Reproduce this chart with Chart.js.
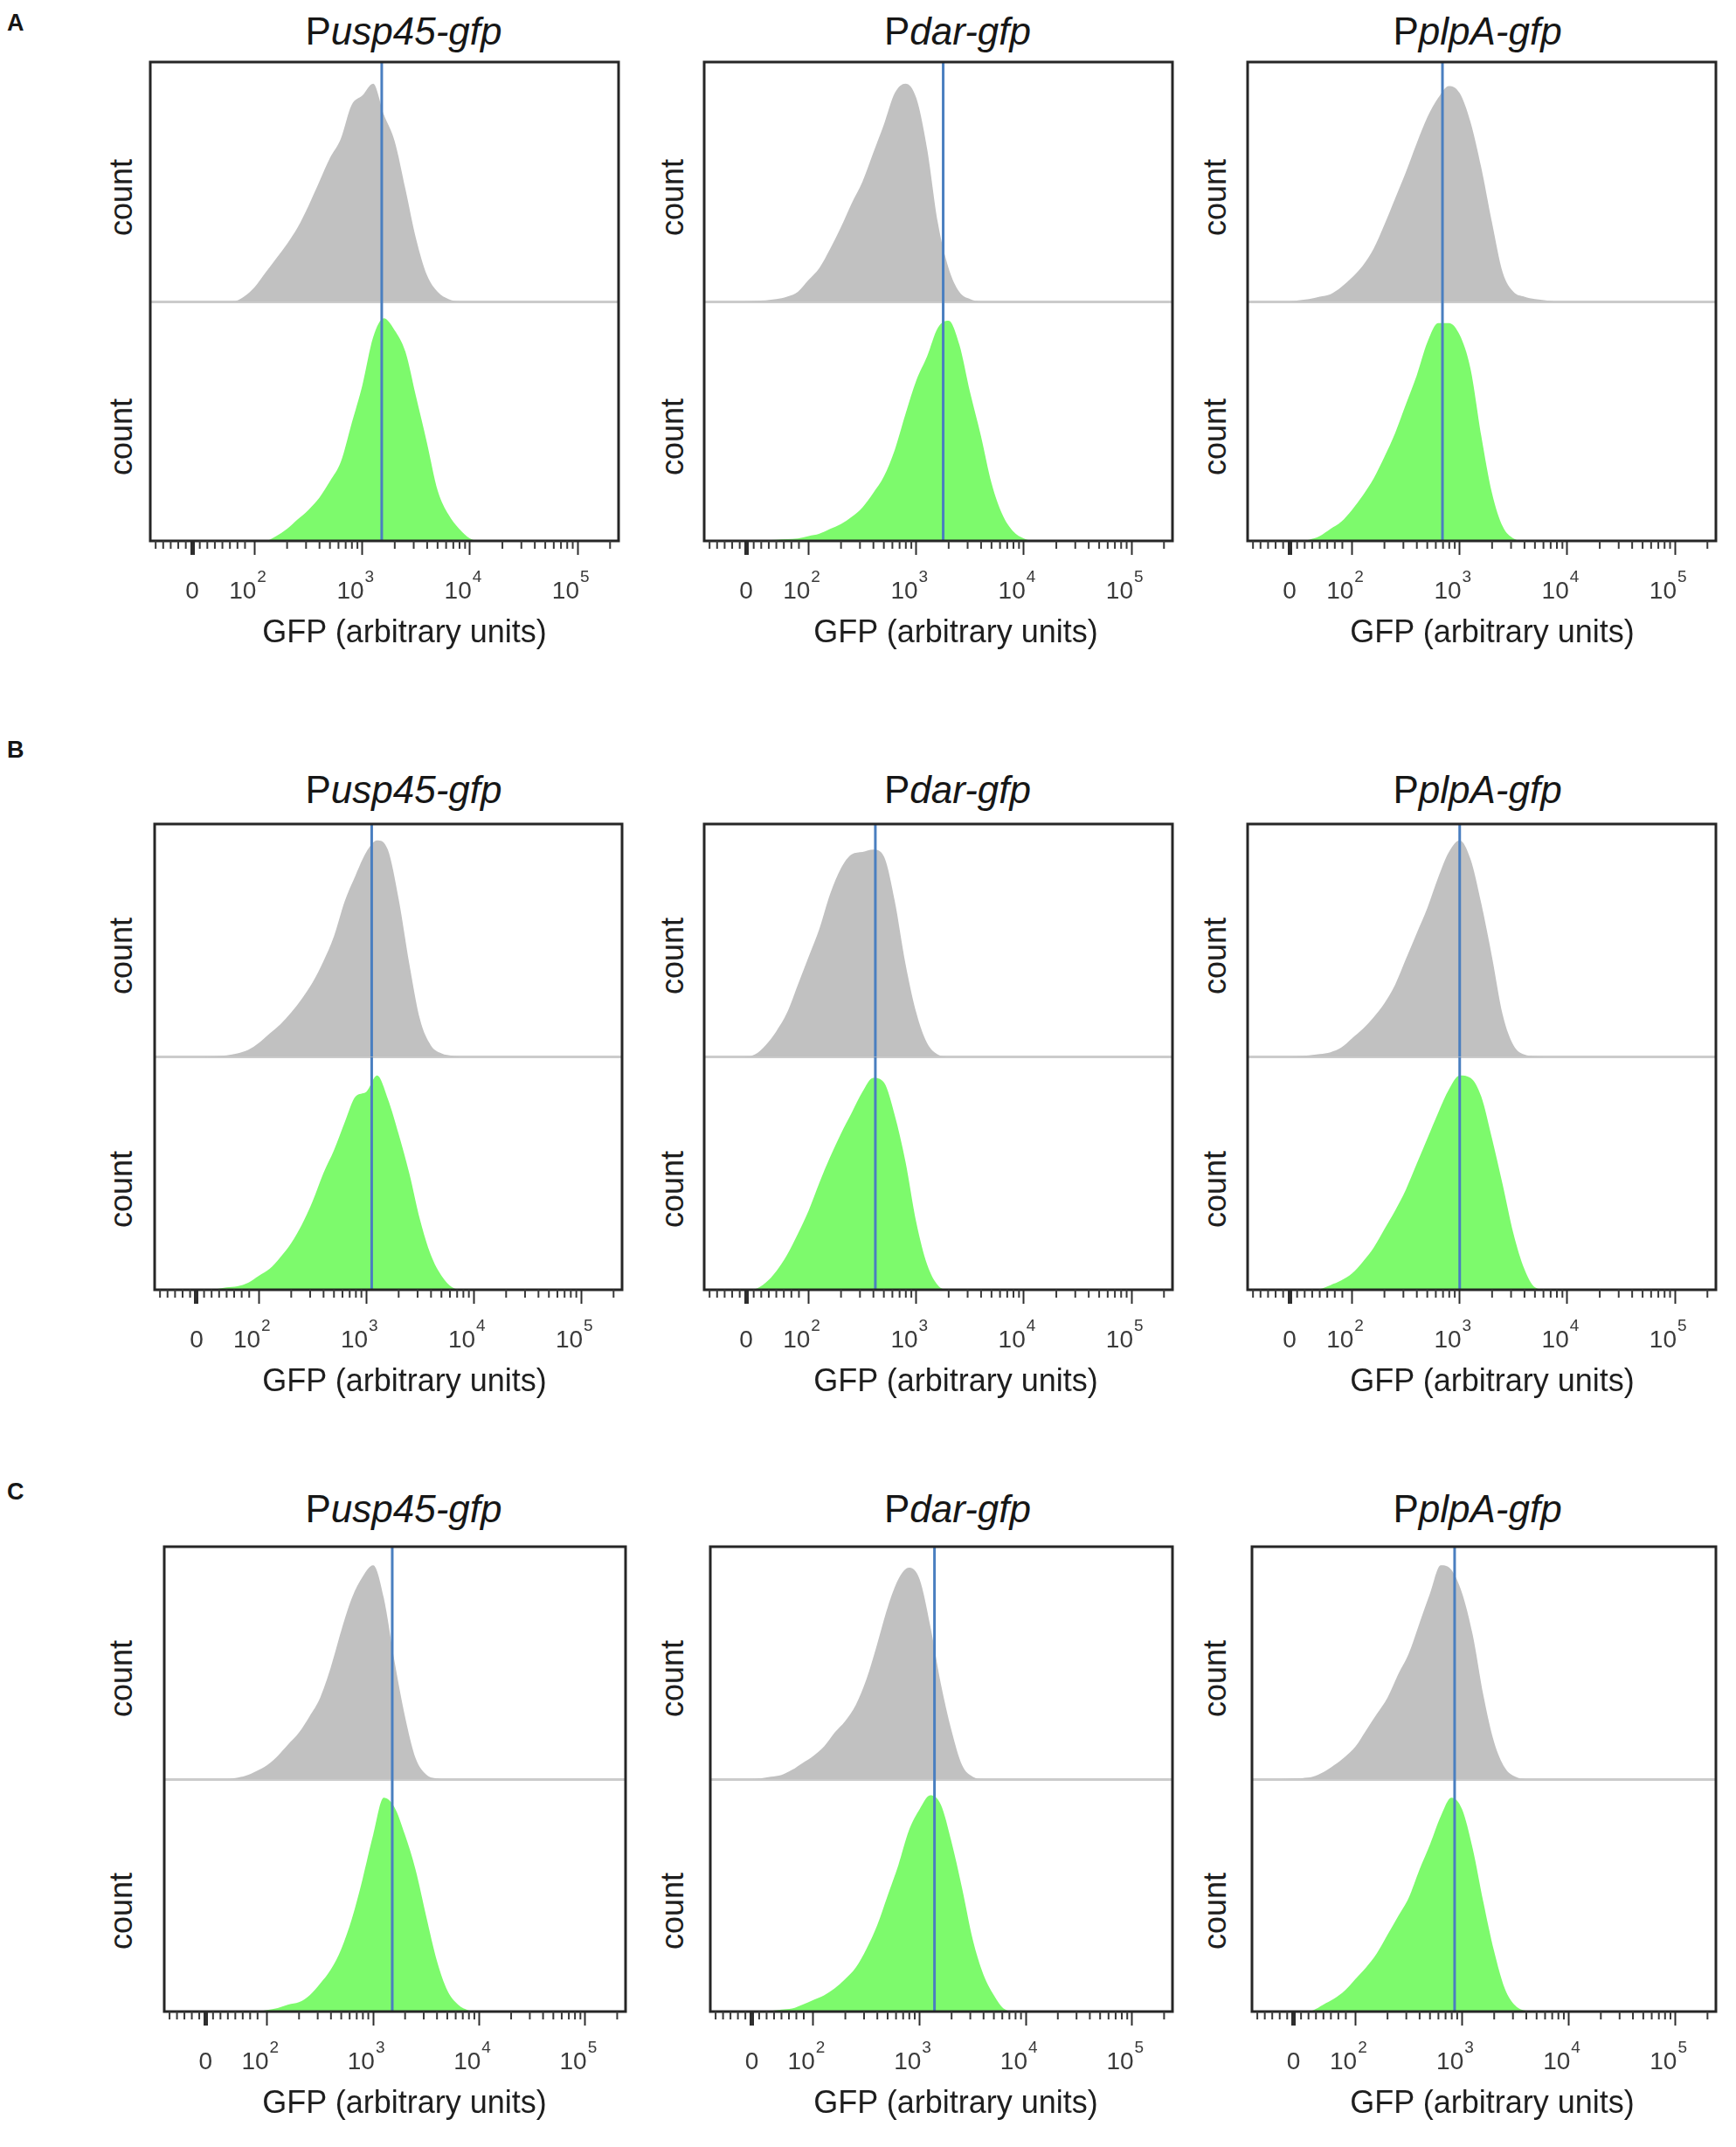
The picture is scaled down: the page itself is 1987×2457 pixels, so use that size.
<!DOCTYPE html>
<html>
<head>
<meta charset="utf-8">
<script src="https://cdn.jsdelivr.net/npm/chart.js@4.4.1/dist/chart.umd.min.js"></script>
<style>
  body { margin: 0; background: #fff; width: 1987px; height: 2457px; position: relative; overflow: hidden;
         font-family: "Liberation Sans", Arial, sans-serif; color: #161616; }
  canvas { position: absolute; }
  .letter { position: absolute; font-weight: bold; font-size: 27px; line-height: 1; transform: translateY(-50%); }
  .title { position: absolute; font-size: 44px; line-height: 1; white-space: nowrap; transform: translate(-50%, -50%); }
  .xlab { position: absolute; font-size: 36px; line-height: 1; white-space: nowrap; transform: translate(-50%, -50%); color: #1e1e1e; }
  .ylab { position: absolute; font-size: 36px; line-height: 1; white-space: nowrap; transform: translate(-50%, -50%) rotate(-90deg); color: #1e1e1e; }
</style>
</head>
<body>
<script>
// x positions of histogram bins, in display decades (10^3 -> 3)
const binCenters = [1.0,1.1,1.2,1.3,1.4,1.5,1.6,1.7,1.8,1.9,2.0,2.1,2.2,2.3,2.4,2.5,2.6,2.7,2.8,2.9,3.0,3.1,3.2,3.3,3.4,3.5,3.6,3.7,3.8,3.9,4.0,4.1,4.2];

// % of mode. gray = upper histogram, green = lower histogram
const grayA1  = [0,0,0,0,0,0,0,0,0,2,6,12,18,24,31,40,50,60,68,82,86,91,78,67,47,26,11,4,1,0,0,0,0];
const greenA1 = [0,0,0,0,0,0,0,0,0,0,0,0,2,5,9,13,18,25,33,49,65,85,93,88,79,60,41,21,11,5,1,0,0];
const grayA2  = [0,0,0,0,0,0.3,0.5,1,2,4,9,14,22,31,41,50,62,74,87,91,85,64,33,14,4,1,0,0,0,0,0,0,0];
const greenA2 = [0,0,0,0,0,0,0.3,0.5,0.7,1,2,3,5,7,10,14,20,27,38,53,67,77,89,92,82,62,44,24,11,4,1,0,0];
const grayA3  = [0,0,0,0,0,0.5,1,2,3,6,10,15,22,32,43,54,66,77,85,90,87,75,56,33,12,4,2,1,0.5,0,0,0,0];
const greenA3 = [0,0,0,0,0,0,0.5,2,5,8,13,19,26,35,45,57,69,83,91,91,86,72,44,20,6,1,0,0,0,0,0,0,0];

const grayB1  = [0,0,0,0,0,0,0.3,0.7,1.5,3,6,10,14,19,25,32,41,52,67,78,88,93,89,68,40,16,5,1.5,0.5,0,0,0,0];
const greenB1 = [0,0,0,0,0,0,0.3,1,1.5,3,6,9,14,20,28,38,50,60,72,83,85,92,82,67,50,30,15,6,1,0,0,0,0];
const grayB2  = [0,0,0,0,0,1,5,11,19,31,43,55,70,81,87,88,89,86,67,40,19,6,1,0,0,0,0,0,0,0,0,0,0];
const greenB2 = [0,0,0,0,0,0.3,3,8,15,24,34,46,57,67,76,85,91,89,75,55,29,11,2,0,0,0,0,0,0,0,0,0,0];
const grayB3  = [0,0,0,0,0,0.3,0.7,1.2,2,4,8,12,17,23,31,42,53,64,77,88,93,85,66,43,18,5,1,0.3,0,0,0,0,0];
const greenB3 = [0,0,0,0,0,0,0,0.3,2,4,7,12,18,26,34,43,54,65,76,86,92,91,83,65,45,24,9,1,0,0,0,0,0];

const grayC1  = [0,0,0,0,0,0,0,0.5,1.5,3.5,6,10,15,20,27,35,48,64,78,87,92,78,51,27,9,2,0.3,0,0,0,0,0,0];
const greenC1 = [0,0,0,0,0,0,0,0,0,0,0.7,1.5,3,4,7,12,18,27,40,57,76,92,88,76,61,41,22,9,3,0.5,0,0,0];
const grayC2  = [0,0,0,0,0,0.3,1,1.8,4,7,10,14,20,25,32,43,58,74,86,91,86,66,41,21,6,1,0,0,0,0,0,0,0];
const greenC2 = [0,0,0,0,0,0,0.3,0.8,1.3,3,5,7,10,14,19,27,37,50,63,78,87,93,89,73,53,31,16,7,1,0,0,0,0];
const grayC3  = [0,0,0,0,0.2,0.4,1,3,6,9.5,14,21,28,35,45,54,67,80,92,90,80,62,36,16,5,1,0,0,0,0,0,0,0];
const greenC3 = [0,0,0,0,0,0,0.5,3,5.5,9,14,19,25,33,41,49,61,72,84,92,87,70,47,26,10,2.5,0.3,0,0,0,0,0,0];

// blue marker line position per panel (display decades)
const markerA = [3.18, 3.25, 2.84];
const markerB = [3.05, 2.62, 3.00];
const markerC = [3.18, 3.14, 2.93];

const rowLetters = ['A', 'B', 'C'];
const promoters = ['usp45', 'dar', 'plpA'];
const axisTitle = 'GFP (arbitrary units)';
const yTitle = 'count';

// x axis: labelled ticks
const tickValues = [1.42, 2, 3, 4, 5];
const tickBase = ['0', '10', '10', '10', '10'];
const tickExp = ['', '2', '3', '4', '5'];
// unlabelled ticks in the linear part near zero
const linearMinor = [1.08, 1.15, 1.22, 1.29, 1.36, 1.49, 1.56, 1.63, 1.70, 1.77, 1.84, 1.91];
const xMin = 1.03, xMax = 5.38;

// ---- layout (pixels) ----
const rowTop = [71, 943, 1770];
const rowBottom = [619, 1476, 2302];
const colLeft = [[172, 806, 1428], [177, 806, 1428], [188, 813, 1433]];
const colRight = [[708, 1342, 1964], [712, 1342, 1964], [716, 1342, 1964]];
const titleY = [36, 904, 1727];
const letterY = [26, 858, 1707];
const titleX = [462, 1096, 1691];
const xlabX = [463, 1094, 1708];
const ylabX = [139, 770, 1391];
const PAD = 4, TICK_AREA = 84;

const grays = [[grayA1, grayA2, grayA3], [grayB1, grayB2, grayB3], [grayC1, grayC2, grayC3]];
const greens = [[greenA1, greenA2, greenA3], [greenB1, greenB2, greenB3], [greenC1, greenC2, greenC3]];
const markers = [markerA, markerB, markerC];

const minorTickValues = linearMinor.slice();
[2, 3, 4].forEach(d => { for (let k = 2; k <= 9; k++) minorTickValues.push(d + Math.log10(k)); });
minorTickValues.push(5 + Math.log10(2));

const framePlugin = {
  id: 'frame',
  afterDatasetsDraw(chart) {
    const a = chart.chartArea, ctx = chart.ctx;
    ctx.save();
    ctx.strokeStyle = '#262626';
    ctx.lineWidth = 3;
    ctx.strokeRect(a.left, a.top, a.right - a.left, a.bottom - a.top);
    ctx.restore();
  }
};

const minorTickPlugin = {
  id: 'minorTicks',
  afterDraw(chart) {
    const s = chart.scales.x, ctx = chart.ctx, y0 = chart.chartArea.bottom;
    ctx.save();
    ctx.strokeStyle = '#3a3a3a';
    ctx.lineWidth = 2;
    minorTickValues.forEach(v => {
      const x = s.getPixelForValue(v);
      ctx.beginPath();
      ctx.moveTo(x, y0);
      ctx.lineTo(x, y0 + 9);
      ctx.stroke();
    });
    ctx.restore();
  }
};

const tickLabelPlugin = {
  id: 'tickLabels',
  afterDraw(chart) {
    const s = chart.scales.x, ctx = chart.ctx, y = chart.chartArea.bottom + 58;
    const baseFont = '28px "Liberation Sans", Arial, sans-serif';
    const expFont = '19px "Liberation Sans", Arial, sans-serif';
    ctx.save();
    ctx.fillStyle = '#3a3a3a';
    ctx.textBaseline = 'middle';
    ctx.textAlign = 'left';
    tickValues.forEach((v, i) => {
      ctx.font = baseFont;
      const wb = ctx.measureText(tickBase[i]).width;
      ctx.font = expFont;
      const we = tickExp[i] ? ctx.measureText(tickExp[i]).width + 1 : 0;
      const x0 = s.getPixelForValue(v) - (wb + we) / 2 - (tickExp[i] ? 8 : 0);
      ctx.font = baseFont;
      ctx.fillText(tickBase[i], x0, y);
      if (tickExp[i]) {
        ctx.font = expFont;
        ctx.fillText(tickExp[i], x0 + wb + 1, y - 16);
      }
    });
    ctx.restore();
  }
};

function addText(cls, html, x, y) {
  const d = document.createElement('div');
  d.className = cls;
  d.innerHTML = html;
  d.style.left = x + 'px';
  d.style.top = y + 'px';
  document.body.appendChild(d);
}

function makePanel(r, c) {
  const fl = colLeft[r][c], fr = colRight[r][c], ft = rowTop[r], fb = rowBottom[r];
  const cv = document.createElement('canvas');
  cv.width = fr - fl + 2 * PAD;
  cv.height = fb - ft + PAD + TICK_AREA;
  cv.style.left = (fl - PAD) + 'px';
  cv.style.top = (ft - PAD) + 'px';
  document.body.appendChild(cv);

  const pts = arr => binCenters.map((b, i) => ({ x: b, y: arr[i] }));
  const m = markers[r][c];
  const markerLine = axis => ({
    data: [{ x: m, y: 0 }, { x: m, y: 100 }], yAxisID: axis,
    borderColor: '#4a7fc0', borderWidth: 3, pointRadius: 0, fill: false
  });
  const hist = (arr, axis, color) => ({
    data: pts(arr), yAxisID: axis, fill: 'origin', backgroundColor: color,
    borderWidth: 0, pointRadius: 0, cubicInterpolationMode: 'monotone'
  });
  const yAxis = baseline => ({
    type: 'linear', position: 'left', stack: 'hist', stackWeight: 1, min: 0, max: 100,
    ticks: { display: false, stepSize: 100 },
    grid: baseline
      ? { drawTicks: false, lineWidth: 3, color: ctx => ctx.tick && ctx.tick.value === 0 ? '#cbcbcb' : 'rgba(0,0,0,0)' }
      : { display: false },
    border: { display: false },
    afterFit: s => { s.width = 0; }
  });

  new Chart(cv, {
    type: 'line',
    data: {
      datasets: [
        markerLine('yTop'),
        markerLine('yBot'),
        hist(grays[r][c], 'yTop', '#c1c1c1'),
        hist(greens[r][c], 'yBot', '#7dfa6c')
      ]
    },
    options: {
      responsive: false,
      animation: false,
      devicePixelRatio: 1,
      layout: { padding: { left: PAD, right: PAD, top: PAD, bottom: 0 } },
      plugins: { legend: { display: false }, tooltip: { enabled: false } },
      scales: {
        x: {
          type: 'linear', min: xMin, max: xMax,
          afterBuildTicks: s => { s.ticks = tickValues.map(v => ({ value: v })); },
          afterFit: s => { s.height = TICK_AREA; },
          ticks: { display: false },
          grid: {
            drawOnChartArea: false, drawTicks: true, tickLength: 16, tickColor: '#2e2e2e',
            tickWidth: ctx => (ctx.tick && ctx.tick.value === tickValues[0]) ? 5 : 2
          },
          border: { display: false }
        },
        // stacked left axes: the one listed last is placed on top
        yBot: yAxis(false),
        yTop: yAxis(true)
      }
    },
    plugins: [framePlugin, minorTickPlugin, tickLabelPlugin]
  });

  const half = (fb - ft) / 2;
  addText('title', 'P<i>' + promoters[c] + '-gfp</i>', titleX[c], titleY[r]);
  addText('xlab', axisTitle, xlabX[c], fb + 104);
  addText('ylab', yTitle, ylabX[c], ft + half / 2 + 18);
  addText('ylab', yTitle, ylabX[c], ft + half * 1.5 + 18);
}

for (let r = 0; r < 3; r++) {
  addText('letter', rowLetters[r], 8, letterY[r]);
  for (let c = 0; c < 3; c++) makePanel(r, c);
}
</script>
</body>
</html>
